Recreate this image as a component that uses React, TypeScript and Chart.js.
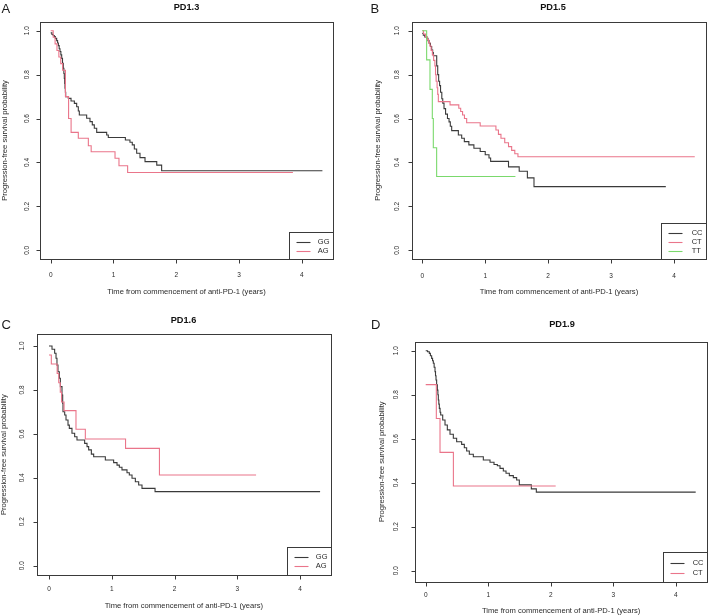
import { useEffect, useRef } from "react";
import { Chart, registerables } from "chart.js";

Chart.register(...registerables);

// ---------- tick labels & texts ----------
const xTickValues = [0, 1, 2, 3, 4];
const xTickLabels = ["0", "1", "2", "3", "4"];
const yTickValues = [0, 0.2, 0.4, 0.6, 0.8, 1.0];
const yTickLabels = ["0.0", "0.2", "0.4", "0.6", "0.8", "1.0"];
const xAxisTitle = "Time from commencement of anti-PD-1 (years)";
const yAxisTitle = "Progression-free survival probability";
const panelLetters = ["A", "B", "C", "D"];
const panelTitles = ["PD1.3", "PD1.5", "PD1.6", "PD1.9"];

// ---------- Panel A: PD1.3 ----------
const A_GG_time = [0, 0.02, 0.04, 0.058, 0.075, 0.095, 0.11, 0.122, 0.135, 0.148, 0.162, 0.175, 0.188, 0.201, 0.21, 0.217, 0.223, 0.228, 0.234, 0.239, 0.281, 0.324, 0.377, 0.414, 0.44, 0.456, 0.573, 0.626, 0.663, 0.695, 0.733, 0.892, 0.918, 1.19, 1.263, 1.3, 1.333, 1.37, 1.423, 1.503, 1.69, 1.768, 4.33];
const A_GG_surv = [0.99, 0.983, 0.978, 0.973, 0.965, 0.955, 0.944, 0.932, 0.918, 0.905, 0.89, 0.874, 0.852, 0.829, 0.805, 0.783, 0.76, 0.738, 0.72, 0.7, 0.692, 0.68, 0.669, 0.654, 0.634, 0.616, 0.601, 0.586, 0.571, 0.556, 0.537, 0.525, 0.514, 0.502, 0.492, 0.48, 0.461, 0.442, 0.422, 0.404, 0.388, 0.362, 0.362];
const A_AG_time = [0, 0.04, 0.07, 0.1, 0.13, 0.16, 0.19, 0.235, 0.285, 0.325, 0.44, 0.6, 0.645, 1.025, 1.088, 1.226, 3.86];
const A_AG_surv = [1.0, 0.97, 0.94, 0.91, 0.88, 0.85, 0.82, 0.7, 0.6, 0.537, 0.51, 0.476, 0.449, 0.419, 0.385, 0.354, 0.354];

// ---------- Panel B: PD1.5 ----------
const B_CC_time = [0, 0.016, 0.04, 0.07, 0.09, 0.107, 0.13, 0.149, 0.165, 0.175, 0.229, 0.245, 0.26, 0.275, 0.29, 0.31, 0.325, 0.345, 0.37, 0.4, 0.425, 0.445, 0.467, 0.573, 0.626, 0.668, 0.74, 0.82, 0.92, 1.0, 1.06, 1.086, 1.37, 1.54, 1.67, 1.775, 3.87];
const B_CC_surv = [0.988, 0.98, 0.972, 0.965, 0.955, 0.943, 0.928, 0.912, 0.9, 0.886, 0.84, 0.8, 0.77, 0.75, 0.72, 0.69, 0.67, 0.645, 0.62, 0.6, 0.585, 0.565, 0.545, 0.525, 0.51, 0.495, 0.48, 0.465, 0.45, 0.435, 0.42, 0.405, 0.38, 0.36, 0.33, 0.29, 0.29];
const B_CT_time = [0, 0.02, 0.05, 0.08, 0.1, 0.12, 0.14, 0.16, 0.18, 0.2, 0.21, 0.22, 0.235, 0.245, 0.255, 0.441, 0.58, 0.61, 0.64, 0.67, 0.705, 0.92, 1.17, 1.21, 1.25, 1.31, 1.37, 1.42, 1.47, 1.52, 4.33];
const B_CT_surv = [1.0, 0.985, 0.972, 0.96, 0.945, 0.93, 0.91, 0.89, 0.865, 0.84, 0.8, 0.77, 0.74, 0.71, 0.677, 0.662, 0.647, 0.632, 0.616, 0.6, 0.581, 0.566, 0.548, 0.528, 0.51, 0.49, 0.472, 0.455, 0.44, 0.426, 0.426];
const B_TT_time = [0, 0.069, 0.122, 0.159, 0.175, 0.228, 1.48];
const B_TT_surv = [1.0, 0.867, 0.733, 0.6, 0.467, 0.336, 0.336];

// ---------- Panel C: PD1.6 ----------
const C_GG_time = [0, 0.048, 0.09, 0.112, 0.127, 0.143, 0.165, 0.181, 0.207, 0.218, 0.223, 0.25, 0.271, 0.303, 0.324, 0.366, 0.409, 0.446, 0.568, 0.606, 0.632, 0.675, 0.712, 0.898, 1.03, 1.084, 1.121, 1.163, 1.243, 1.28, 1.323, 1.376, 1.429, 1.482, 1.69, 4.32];
const C_GG_surv = [1.0, 0.985, 0.967, 0.944, 0.913, 0.883, 0.853, 0.815, 0.777, 0.739, 0.701, 0.686, 0.663, 0.64, 0.625, 0.603, 0.587, 0.572, 0.557, 0.542, 0.527, 0.508, 0.496, 0.481, 0.469, 0.458, 0.448, 0.436, 0.423, 0.413, 0.398, 0.382, 0.367, 0.352, 0.337, 0.337];
const C_AG_time = [0, 0.037, 0.13, 0.155, 0.18, 0.2, 0.24, 0.43, 0.579, 1.22, 1.76, 3.3];
const C_AG_surv = [0.959, 0.918, 0.875, 0.833, 0.79, 0.745, 0.706, 0.621, 0.577, 0.534, 0.413, 0.413];

// ---------- Panel D: PD1.9 ----------
const D_CC_time = [0, 0.03, 0.058, 0.075, 0.095, 0.11, 0.122, 0.135, 0.149, 0.157, 0.165, 0.175, 0.186, 0.195, 0.202, 0.21, 0.218, 0.23, 0.24, 0.272, 0.309, 0.346, 0.389, 0.442, 0.495, 0.575, 0.618, 0.655, 0.698, 0.762, 0.922, 1.029, 1.093, 1.146, 1.189, 1.242, 1.285, 1.338, 1.402, 1.455, 1.498, 1.69, 1.77, 4.32];
const D_CC_surv = [1.0, 0.995, 0.988, 0.977, 0.965, 0.954, 0.943, 0.925, 0.905, 0.886, 0.867, 0.845, 0.821, 0.8, 0.776, 0.757, 0.738, 0.72, 0.708, 0.685, 0.662, 0.64, 0.62, 0.602, 0.586, 0.574, 0.559, 0.544, 0.529, 0.518, 0.503, 0.493, 0.483, 0.477, 0.465, 0.453, 0.443, 0.432, 0.423, 0.412, 0.39, 0.372, 0.357, 0.357];
const D_CT_time = [0, 0.17, 0.229, 0.443, 2.08];
const D_CT_surv = [0.846, 0.692, 0.538, 0.385, 0.385];

// ---------- styling ----------
const BLACK = "#3a3a3a";
const PINK = "#EA758A";
const GREEN = "#7AD96C";
const AXIS = "#3a3a3a";
const TEXT = "#2a2a2a";
const FONT = "'Liberation Sans', Arial, Helvetica, sans-serif";

type Series = { label: string; time: number[]; surv: number[]; color: string; order: number };
type PanelCfg = {
  letter: string;
  title: string;
  q: { x: number; y: number; w: number; h: number };
  box: { l: number; t: number; r: number; b: number };
  x0px: number; x4px: number; y1px: number; y0px: number;
  letterPos: { x: number; y: number };
  titlePos: { x: number; y: number };
  xLabOff: number; xTitleOff: number; yLabOff: number; yTitleOff: number;
  legend: { w: number; h: number };
  series: Series[];
};

const panels: PanelCfg[] = [
  {
    letter: panelLetters[0], title: panelTitles[0],
    q: { x: 0, y: 0, w: 354, h: 300 },
    box: { l: 40, t: 22, r: 333, b: 259 },
    x0px: 50.7, x4px: 301.7, y1px: 30.7, y0px: 250.3,
    letterPos: { x: 1.5, y: 9.5 }, titlePos: { x: 186.5, y: 7 },
    xLabOff: 16, xTitleOff: 32.5, yLabOff: 12.5, yTitleOff: 35,
    legend: { w: 44, h: 27 },
    series: [
      { label: "GG", time: A_GG_time, surv: A_GG_surv, color: BLACK, order: 3 },
      { label: "AG", time: A_AG_time, surv: A_AG_surv, color: PINK, order: 2 },
    ],
  },
  {
    letter: panelLetters[1], title: panelTitles[1],
    q: { x: 354, y: 0, w: 355, h: 300 },
    box: { l: 412.3, t: 21.7, r: 705.7, b: 259 },
    x0px: 422.3, x4px: 674, y1px: 30.7, y0px: 250.3,
    letterPos: { x: 370.5, y: 9 }, titlePos: { x: 553, y: 7 },
    xLabOff: 17, xTitleOff: 32.7, yLabOff: 15, yTitleOff: 34,
    legend: { w: 44.4, h: 36.5 },
    series: [
      { label: "CC", time: B_CC_time, surv: B_CC_surv, color: BLACK, order: 3 },
      { label: "CT", time: B_CT_time, surv: B_CT_surv, color: PINK, order: 2 },
      { label: "TT", time: B_TT_time, surv: B_TT_surv, color: GREEN, order: 1 },
    ],
  },
  {
    letter: panelLetters[2], title: panelTitles[2],
    q: { x: 0, y: 300, w: 354, h: 316 },
    box: { l: 36.7, t: 334.3, r: 331, b: 575 },
    x0px: 49, x4px: 300, y1px: 346, y0px: 565.7,
    letterPos: { x: 1.5, y: 325 }, titlePos: { x: 183.5, y: 320 },
    xLabOff: 14, xTitleOff: 31, yLabOff: 14, yTitleOff: 32.7,
    legend: { w: 44.3, h: 27.7 },
    series: [
      { label: "GG", time: C_GG_time, surv: C_GG_surv, color: BLACK, order: 3 },
      { label: "AG", time: C_AG_time, surv: C_AG_surv, color: PINK, order: 2 },
    ],
  },
  {
    letter: panelLetters[3], title: panelTitles[3],
    q: { x: 354, y: 300, w: 355, h: 316 },
    box: { l: 415, t: 341.7, r: 707.3, b: 581.7 },
    x0px: 425.7, x4px: 675.7, y1px: 350.7, y0px: 570.7,
    letterPos: { x: 371, y: 325 }, titlePos: { x: 562, y: 324 },
    xLabOff: 13.5, xTitleOff: 29, yLabOff: 19, yTitleOff: 32.7,
    legend: { w: 44.7, h: 30 },
    series: [
      { label: "CC", time: D_CC_time, surv: D_CC_surv, color: BLACK, order: 3 },
      { label: "CT", time: D_CT_time, surv: D_CT_surv, color: PINK, order: 2 },
    ],
  },
];

const snap = (v: number) => Math.round(v) + 0.5;

function makeDecor(cfg: PanelCfg) {
  return {
    id: "rdecor" + cfg.letter,
    afterDraw(chart: any) {
      const ctx: CanvasRenderingContext2D = chart.ctx;
      const ca = chart.chartArea;
      const xs = chart.scales.x;
      const ys = chart.scales.y;
      const ox = cfg.q.x;
      const oy = cfg.q.y;
      const L = snap(ca.left), R = snap(ca.right), T = snap(ca.top), B = snap(ca.bottom);
      ctx.save();

      // box
      ctx.strokeStyle = AXIS;
      ctx.lineWidth = 1;
      ctx.strokeRect(L, T, R - L, B - T);

      // ticks
      ctx.beginPath();
      xTickValues.forEach((v) => {
        const px = snap(xs.getPixelForValue(v));
        ctx.moveTo(px, B);
        ctx.lineTo(px, B + 4);
      });
      yTickValues.forEach((v) => {
        const py = snap(ys.getPixelForValue(v));
        ctx.moveTo(L, py);
        ctx.lineTo(L - 4, py);
      });
      ctx.stroke();

      // tick labels
      ctx.fillStyle = TEXT;
      ctx.font = `6.5px ${FONT}`;
      ctx.textAlign = "center";
      ctx.textBaseline = "middle";
      xTickValues.forEach((v, i) => {
        ctx.fillText(xTickLabels[i], xs.getPixelForValue(v), ca.bottom + cfg.xLabOff);
      });
      yTickValues.forEach((v, i) => {
        ctx.save();
        ctx.translate(ca.left - cfg.yLabOff, ys.getPixelForValue(v));
        ctx.rotate(-Math.PI / 2);
        ctx.fillText(yTickLabels[i], 0, 0);
        ctx.restore();
      });

      // axis titles
      ctx.font = `7.6px ${FONT}`;
      ctx.fillText(xAxisTitle, (ca.left + ca.right) / 2, ca.bottom + cfg.xTitleOff);
      ctx.save();
      ctx.translate(ca.left - cfg.yTitleOff, (ca.top + ca.bottom) / 2);
      ctx.rotate(-Math.PI / 2);
      ctx.fillText(yAxisTitle, 0, 0);
      ctx.restore();

      // main title
      ctx.font = `bold 9.2px ${FONT}`;
      ctx.fillStyle = "#111";
      ctx.fillText(cfg.title, cfg.titlePos.x - ox, cfg.titlePos.y - oy);

      // panel letter
      ctx.font = `13px ${FONT}`;
      ctx.textAlign = "left";
      ctx.fillStyle = "#1a1a1a";
      ctx.fillText(cfg.letter, cfg.letterPos.x - ox, cfg.letterPos.y - oy);

      // legend
      const ll = snap(ca.right - cfg.legend.w);
      const lt = snap(ca.bottom - cfg.legend.h);
      ctx.fillStyle = "#ffffff";
      ctx.fillRect(ll, lt, R - ll, B - lt);
      ctx.strokeStyle = AXIS;
      ctx.lineWidth = 1;
      ctx.strokeRect(ll, lt, R - ll, B - lt);
      ctx.font = `7.5px ${FONT}`;
      const n = cfg.series.length;
      let maxW = 0;
      cfg.series.forEach((s) => { maxW = Math.max(maxW, ctx.measureText(s.label).width); });
      const textX = R - 4 - maxW;
      cfg.series.forEach((s, i) => {
        const ry = lt + (cfg.legend.h * (i + 1)) / (n + 1);
        ctx.strokeStyle = s.color;
        ctx.lineWidth = 1.1;
        ctx.beginPath();
        ctx.moveTo(ll + 7, Math.round(ry) + 0.5);
        ctx.lineTo(ll + 21, Math.round(ry) + 0.5);
        ctx.stroke();
        ctx.fillStyle = TEXT;
        ctx.textAlign = "left";
        ctx.fillText(s.label, textX, ry);
      });

      ctx.restore();
    },
  };
}

function KMPanel({ cfg }: { cfg: PanelCfg }) {
  const ref = useRef<HTMLCanvasElement | null>(null);
  useEffect(() => {
    if (!ref.current) return;
    const pxPerX = (cfg.x4px - cfg.x0px) / 4;
    const xmin = (cfg.box.l - cfg.x0px) / pxPerX;
    const xmax = (cfg.box.r - cfg.x0px) / pxPerX;
    const pxPerY = cfg.y0px - cfg.y1px;
    const ymin = (cfg.y0px - cfg.box.b) / pxPerY;
    const ymax = (cfg.y0px - cfg.box.t) / pxPerY;
    const pad = {
      left: cfg.box.l - cfg.q.x,
      top: cfg.box.t - cfg.q.y,
      right: cfg.q.x + cfg.q.w - cfg.box.r,
      bottom: cfg.q.y + cfg.q.h - cfg.box.b,
    };
    const chart = new Chart(ref.current, {
      type: "line",
      data: {
        datasets: cfg.series.map((s) => ({
          label: s.label,
          data: s.time.map((t, i) => ({ x: t, y: s.surv[i] })),
          borderColor: s.color,
          borderWidth: 1.1,
          stepped: "before" as const,
          fill: false,
          pointRadius: 0,
          pointHoverRadius: 0,
          order: s.order,
        })),
      },
      options: {
        animation: false,
        responsive: false,
        maintainAspectRatio: false,
        events: [],
        layout: { padding: pad },
        plugins: {
          legend: { display: false },
          tooltip: { enabled: false },
          title: { display: false },
        },
        scales: {
          x: { type: "linear", min: xmin, max: xmax, display: false },
          y: { type: "linear", min: ymin, max: ymax, display: false },
        },
      },
      plugins: [makeDecor(cfg)],
    } as any);
    return () => chart.destroy();
  }, [cfg]);
  return (
    <canvas
      ref={ref}
      width={cfg.q.w}
      height={cfg.q.h}
      style={{ position: "absolute", left: cfg.q.x, top: cfg.q.y, width: cfg.q.w, height: cfg.q.h }}
    />
  );
}

export default function App() {
  return (
    <div style={{ position: "absolute", left: 0, top: 0, width: 709, height: 616, background: "#ffffff", overflow: "hidden" }}>
      {panels.map((p) => (
        <KMPanel key={p.letter} cfg={p} />
      ))}
    </div>
  );
}
